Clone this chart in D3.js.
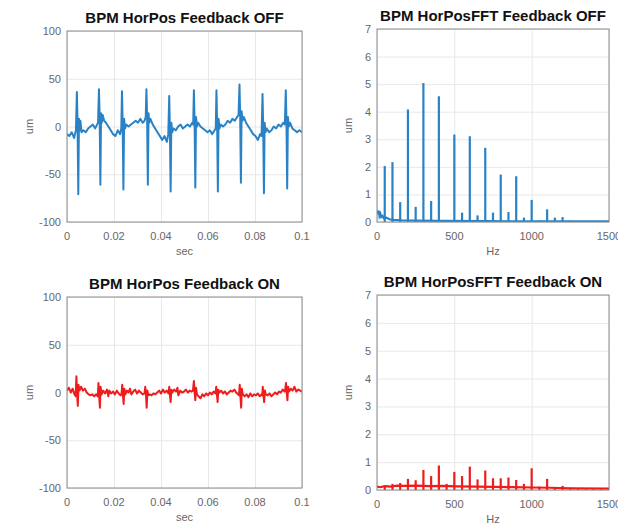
<!DOCTYPE html>
<html>
<head>
<meta charset="utf-8">
<script src="https://cdn.jsdelivr.net/npm/d3@7"></script>
<style>
  body { margin: 0; background: #fff; }
  svg text { font-family: "Liberation Sans", Arial, sans-serif; }
</style>
</head>
<body>
<div id="chart"></div>
<script>
// BPM horizontal position, feedback off / on

// tiempo (s), posicion (um) - feedback OFF
var posOff = [
  [0.0000,-8],[0.0010,-10],[0.0020,-6],[0.0030,-12],[0.0038,-4],[0.0042,36],[0.0045,2],[0.0048,-71],[0.0051,8],[0.0054,-4],[0.0057,6],[0.0062,-6],[0.0070,-4],[0.0080,-6],[0.0090,-2],
  [0.0100,0],[0.0110,2],[0.0120,-2],[0.0132,4],[0.0136,39],[0.0139,10],[0.0142,-61],[0.0145,14],[0.0148,4],[0.0152,12],[0.0158,6],[0.0166,4],[0.0176,0],[0.0186,-4],[0.0196,-8],
  [0.0206,-10],[0.0216,-4],[0.0226,-8],[0.0231,-2],[0.0234,37],[0.0237,0],[0.0240,-66],[0.0243,8],[0.0247,-2],[0.0252,2],[0.0262,0],[0.0272,2],[0.0282,4],[0.0292,6],[0.0302,4],[0.0312,8],[0.0322,4],
  [0.0330,6],[0.0335,10],[0.0338,39],[0.0341,8],[0.0344,-61],[0.0347,14],[0.0350,4],[0.0355,8],[0.0365,2],[0.0375,-2],[0.0385,-6],[0.0395,-10],[0.0405,-14],[0.0415,-10],[0.0425,-16],
  [0.0431,-8],[0.0435,32],[0.0438,-6],[0.0441,-68],[0.0444,4],[0.0448,-6],[0.0453,-2],[0.0463,-4],[0.0473,0],[0.0483,2],[0.0493,-2],[0.0503,0],[0.0513,2],[0.0523,0],[0.0533,4],
  [0.0537,2],[0.0540,38],[0.0543,4],[0.0546,-64],[0.0549,10],[0.0553,0],[0.0558,4],[0.0568,0],[0.0578,-2],[0.0588,-4],[0.0598,-6],[0.0608,-4],[0.0618,-8],[0.0628,-4],
  [0.0633,-2],[0.0636,38],[0.0639,0],[0.0642,-68],[0.0645,8],[0.0649,-2],[0.0654,2],[0.0664,0],[0.0674,2],[0.0684,6],[0.0694,4],[0.0704,8],[0.0714,6],[0.0724,10],
  [0.0730,12],[0.0734,44],[0.0737,10],[0.0740,-59],[0.0743,16],[0.0747,6],[0.0752,10],[0.0762,4],[0.0772,0],[0.0782,-4],[0.0792,-8],[0.0802,-10],[0.0812,-14],[0.0822,-8],
  [0.0828,-10],[0.0832,34],[0.0835,-4],[0.0838,-70],[0.0841,4],[0.0845,-6],[0.0850,-2],[0.0860,-6],[0.0870,-4],[0.0880,0],[0.0890,-2],[0.0900,2],[0.0910,0],[0.0920,4],
  [0.0927,2],[0.0931,38],[0.0934,4],[0.0937,-65],[0.0940,10],[0.0944,0],[0.0949,4],[0.0959,-2],[0.0969,-4],[0.0979,-6],[0.0989,-4],[0.1000,-6]
];

// tiempo (s), posicion (um) - feedback ON
var posOn = [
  [0.0000,2],[0.0008,5],[0.0016,0],[0.0024,4],[0.0032,-2],[0.0037,-4],[0.0040,17],[0.0043,-2],[0.0046,-14],[0.0049,8],[0.0053,2],[0.0060,6],[0.0068,2],[0.0076,4],[0.0084,0],[0.0092,-2],
  [0.0100,-3],[0.0108,-2],[0.0116,-4],[0.0124,-2],[0.0131,-4],[0.0134,10],[0.0137,-4],[0.0140,-16],[0.0143,6],[0.0147,-2],[0.0154,2],[0.0162,-1],[0.0170,3],[0.0176,-4],[0.0180,2],[0.0188,-1],[0.0196,1],
  [0.0204,-2],[0.0212,2],[0.0220,-1],[0.0228,-3],[0.0232,-2],[0.0235,8],[0.0238,-3],[0.0241,-12],[0.0244,4],[0.0248,-2],[0.0255,2],[0.0262,0],[0.0268,4],[0.0274,-2],[0.0282,1],[0.0290,3],[0.0298,-1],
  [0.0306,2],[0.0314,0],[0.0322,-2],[0.0330,-1],[0.0333,6],[0.0336,-2],[0.0339,-16],[0.0342,2],[0.0346,-3],[0.0352,-2],[0.0360,-3],[0.0368,-1],[0.0376,-2],[0.0384,0],[0.0392,2],
  [0.0400,-1],[0.0408,3],[0.0416,0],[0.0424,2],[0.0432,-1],[0.0435,6],[0.0438,-2],[0.0441,-10],[0.0444,3],[0.0448,0],[0.0456,3],[0.0464,1],[0.0470,5],[0.0474,-3],[0.0482,2],[0.0490,0],[0.0498,1],
  [0.0506,3],[0.0514,0],[0.0522,2],[0.0530,1],[0.0536,2],[0.0540,12],[0.0543,0],[0.0546,-8],[0.0549,5],[0.0553,-2],[0.0560,-4],[0.0568,-6],[0.0576,-2],[0.0584,-4],[0.0592,-1],
  [0.0600,-3],[0.0608,0],[0.0616,-2],[0.0624,1],[0.0632,-1],[0.0635,6],[0.0638,-2],[0.0641,-10],[0.0644,3],[0.0648,0],[0.0656,2],[0.0664,-1],[0.0672,1],[0.0680,-2],[0.0688,0],[0.0696,2],
  [0.0704,1],[0.0712,3],[0.0720,0],[0.0728,-2],[0.0732,-3],[0.0735,8],[0.0738,-4],[0.0741,-16],[0.0744,4],[0.0748,-2],[0.0756,-4],[0.0764,-2],[0.0772,-5],[0.0780,-1],[0.0788,-4],[0.0796,-2],
  [0.0804,-3],[0.0812,-1],[0.0820,-4],[0.0828,-2],[0.0831,-3],[0.0833,6],[0.0836,-3],[0.0839,-10],[0.0842,2],[0.0846,-2],[0.0854,-3],[0.0862,-1],[0.0870,-4],[0.0878,-2],[0.0886,0],[0.0894,-2],
  [0.0902,1],[0.0910,0],[0.0918,3],[0.0926,1],[0.0929,4],[0.0932,10],[0.0935,0],[0.0938,-8],[0.0941,6],[0.0945,1],[0.0952,4],[0.0960,2],[0.0968,6],[0.0976,1],[0.0984,3],[0.0992,2],[0.1000,1]
];

// espectro: frecuencias de las lineas (Hz) y amplitud (um)
var fftFreqs = [50,100,150,200,250,300,350,400,450,500,550,600,650,700,750,800,850,900,950,1000,1050,1100,1150,1200,1250,1300,1350,1400,1450];
var fftOff = [2.03,2.17,0.72,4.08,0.55,5.04,0.76,4.56,0.05,3.17,0.34,3.11,0.24,2.69,0.34,1.72,0.36,1.66,0.16,0.80,0.06,0.46,0.16,0.18,0.05,0.04,0.03,0.03,0.03];
var fftOn  = [0.15,0.22,0.25,0.40,0.35,0.72,0.50,0.88,0.22,0.65,0.50,0.84,0.38,0.70,0.42,0.42,0.45,0.36,0.22,0.78,0.12,0.40,0.10,0.15,0.08,0.06,0.05,0.05,0.04];

// suelo de ruido del espectro (Hz, um)
var floorOff = [[0,0.30],[4,0.42],[8,0.28],[12,0.40],[16,0.22],[22,0.30],[28,0.18],[36,0.22],[44,0.14],[60,0.16],[80,0.10],[110,0.08],[160,0.06],[250,0.05],[400,0.04],[700,0.03],[1000,0.02],[1500,0.02]];
var floorOn  = [[0,0.12],[20,0.10],[50,0.14],[90,0.12],[130,0.16],[180,0.15],[260,0.16],[340,0.14],[420,0.15],[520,0.13],[640,0.12],[760,0.11],[880,0.10],[1000,0.09],[1120,0.08],[1250,0.06],[1500,0.05]];

var timeTicks = [0, 0.02, 0.04, 0.06, 0.08, 0.1];
var posTicks = [-100, -50, 0, 50, 100];
var hzTicks = [0, 500, 1000, 1500];
var ampTicks = [0, 1, 2, 3, 4, 5, 6, 7];

var blue = '#2a82c6',
	red = '#ee1c1c';

var svg = d3.select('#chart').append('svg')
	.attr('width', 618)
	.attr('height', 525);

// cajas de cada panel
var panels = [
	{ title: 'BPM HorPos Feedback OFF', box: [67, 31, 302, 222], kind: 'time', data: posOff, color: blue, xlab: 'sec' },
	{ title: 'BPM HorPosFFT Feedback OFF', box: [377, 29, 609, 222], kind: 'fft', data: fftOff, floor: floorOff, color: blue, xlab: 'Hz' },
	{ title: 'BPM HorPos Feedback ON', box: [67, 297, 302, 488], kind: 'time', data: posOn, color: red, xlab: 'sec' },
	{ title: 'BPM HorPosFFT Feedback ON', box: [377, 295, 609, 490], kind: 'fft', data: fftOn, floor: floorOn, color: red, xlab: 'Hz' }
];

panels.forEach(function (p, i) {
	var l = p.box[0], t = p.box[1], r = p.box[2], b = p.box[3];
	var isTime = p.kind == 'time';

	var x = d3.scaleLinear()
		.domain(isTime ? [0, 0.1] : [0, 1500])
		.range([l, r]);
	var y = d3.scaleLinear()
		.domain(isTime ? [-100, 100] : [0, 7])
		.range([b, t]);

	var g = svg.append('g');

	// rejilla
	var xt = isTime ? timeTicks : hzTicks,
		yt = isTime ? posTicks : ampTicks;

	g.append('g')
		.attr('transform', 'translate(0,' + b + ')')
		.call(d3.axisBottom(x).tickValues(xt).tickSize(-(b - t)).tickFormat(''))
		.call(function (s) { s.select('.domain').remove() })
		.selectAll('line').attr('stroke', '#e8e8e8');
	g.append('g')
		.attr('transform', 'translate(' + l + ',0)')
		.call(d3.axisLeft(y).tickValues(yt).tickSize(-(r - l)).tickFormat(''))
		.call(function (s) { s.select('.domain').remove() })
		.selectAll('line').attr('stroke', '#e8e8e8');

	var clipId = 'clip' + i;
	svg.append('clipPath').attr('id', clipId)
		.append('rect').attr('x', l).attr('y', t).attr('width', r - l).attr('height', b - t);

	var plot = g.append('g').attr('clip-path', 'url(#' + clipId + ')');

	if (isTime) {
		var line = d3.line()
			.x(function (d) { return x(d[0]) })
			.y(function (d) { return y(d[1]) });
		plot.append('path')
			.datum(p.data)
			.attr('d', line)
			.attr('fill', 'none')
			.attr('stroke', p.color)
			.attr('stroke-width', 2)
			.attr('stroke-linejoin', 'round');
	} else {
		var fl = d3.line()
			.x(function (d) { return x(d[0]) })
			.y(function (d) { return y(d[1]) });
		plot.append('path')
			.datum(p.floor)
			.attr('d', fl)
			.attr('fill', 'none')
			.attr('stroke', p.color)
			.attr('stroke-width', 2.2);
		plot.selectAll('.stem')
			.data(fftFreqs)
			.enter()
			.append('line')
			.attr('class', 'stem')
			.attr('x1', function (d) { return x(d) })
			.attr('x2', function (d) { return x(d) })
			.attr('y1', y(0))
			.attr('y2', function (d, j) { return y(p.data[j]) })
			.attr('stroke', p.color)
			.attr('stroke-width', 2.2);
	}

	// caja
	g.append('rect')
		.attr('x', l).attr('y', t)
		.attr('width', r - l).attr('height', b - t)
		.attr('fill', 'none')
		.attr('stroke', '#8a8a8a')
		.attr('stroke-width', 1);

	// etiquetas de ejes
	g.selectAll('.xtl')
		.data(xt)
		.enter().append('text')
		.attr('x', function (d) { return x(d) })
		.attr('y', b + 18)
		.attr('text-anchor', 'middle')
		.attr('font-size', 11)
		.attr('fill', '#666')
		.text(function (d) { return d });
	g.selectAll('.ytl')
		.data(yt)
		.enter().append('text')
		.attr('x', l - 6)
		.attr('y', function (d) { return y(d) + 4 })
		.attr('text-anchor', 'end')
		.attr('font-size', 11)
		.attr('fill', '#666')
		.text(function (d) { return d });

	g.append('text')
		.attr('x', (l + r) / 2)
		.attr('y', b + 33)
		.attr('text-anchor', 'middle')
		.attr('font-size', 11)
		.attr('fill', '#666')
		.text(p.xlab);

	var yl = isTime ? l - 34 : l - 25;
	g.append('text')
		.attr('transform', 'translate(' + yl + ',' + ((t + b) / 2) + ') rotate(-90)')
		.attr('text-anchor', 'middle')
		.attr('font-size', 11)
		.attr('fill', '#666')
		.text('um');

	g.append('text')
		.attr('x', (l + r) / 2)
		.attr('y', t - 8)
		.attr('text-anchor', 'middle')
		.attr('font-size', 15)
		.attr('font-weight', 'bold')
		.attr('fill', '#111')
		.text(p.title);
});
</script>
</body>
</html>
